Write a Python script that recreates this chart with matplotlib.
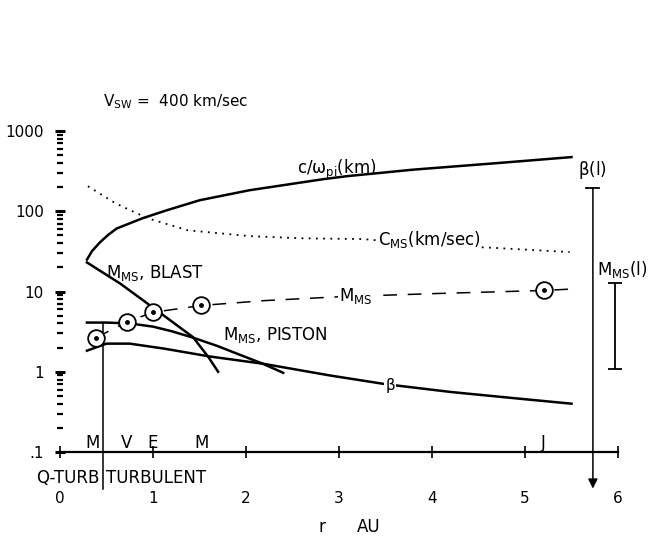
import matplotlib
matplotlib.use('Agg')
import matplotlib.pyplot as plt
from matplotlib.ticker import LogLocator, NullFormatter, FixedLocator

plt.rcParams['font.family'] = ['DejaVu Sans']
plt.rcParams['mathtext.default'] = 'regular'

# heliocentric distance (AU) and curve values
r_cwpi = [0.29, 0.345, 0.43, 0.52, 0.61, 0.89, 1.15, 1.5, 2.04, 2.83, 3.09,
          3.8, 4.7, 5.5]
v_cwpi = [25, 32, 41, 51, 61, 82, 103, 137, 183, 251, 274, 330, 398, 473]

r_cms = [0.30, 0.6, 0.94, 1.37, 2.04, 2.6, 3.26, 3.98, 4.66, 5.48]
v_cms = [205, 125, 82, 58, 49, 46, 45, 38, 35, 31]

r_blast = [0.29, 0.65, 1.0, 1.43, 1.6, 1.70]
v_blast = [23, 12.5, 6.3, 2.7, 1.5, 1.0]

r_piston = [0.29, 0.5, 0.75, 1.0, 1.2, 1.43, 1.69, 1.95, 2.18, 2.4]
v_piston = [4.1, 4.1, 4.0, 3.65, 3.2, 2.66, 2.1, 1.6, 1.26, 0.97]

r_beta = [0.29, 0.5, 0.75, 1.11, 1.61, 2.18, 2.9, 3.5, 4.2, 4.87, 5.5]
v_beta = [1.83, 2.24, 2.24, 1.95, 1.55, 1.26, 0.9, 0.7, 0.56, 0.47, 0.40]

# magnetosonic Mach number at the planets
planets = ['M', 'V', 'E', 'M', 'J']
r_planet = [0.39, 0.72, 1.0, 1.52, 5.2]
v_mms_planet = [2.66, 4.2, 5.5, 6.7, 10.3]
r_mms = [0.39, 0.72, 1.0, 1.52, 2.2, 3.0, 4.0, 5.2, 5.55]
v_mms = [2.66, 4.2, 5.5, 6.7, 7.7, 8.6, 9.4, 10.3, 10.8]

# ranges at the largest scale
beta_l = (195, 0.035)
mms_l = (12.6, 1.09)

xticks = [0, 1, 2, 3, 4, 5, 6]
yticks = [0.1, 1, 10, 100, 1000]
ytick_labels = ['.1', '1', '10', '100', '1000']

fs = 12

fig = plt.figure(figsize=(6.58, 5.42), dpi=100)
ax = fig.add_axes([60 / 658, 90 / 542, 558 / 658, 321 / 542])
ax.set_yscale('log')
ax.set_xlim(0, 6)
ax.set_ylim(0.1, 1000)

for side in ['top', 'right', 'left']:
    ax.spines[side].set_visible(False)
ax.spines['bottom'].set_linewidth(1.6)

ax.set_xticks(xticks)
ax.set_xticklabels([str(t) for t in xticks])
ax.tick_params(axis='x', direction='inout', length=8, width=1.2, pad=24,
               labelsize=11)
ax.yaxis.set_major_locator(FixedLocator(yticks))
ax.set_yticklabels(ytick_labels)
ax.yaxis.set_minor_locator(LogLocator(base=10, subs=range(2, 10)))
ax.yaxis.set_minor_formatter(NullFormatter())
ax.tick_params(axis='y', which='major', direction='inout', length=7,
               width=2.2, pad=8, labelsize=11)
ax.tick_params(axis='y', which='minor', direction='inout', length=5,
               width=1.6)

lw = 1.8
ax.plot(r_cwpi, v_cwpi, color='black', lw=lw)
ax.plot(r_cms, v_cms, color='black', lw=1.3, ls=(0, (1, 3)))
ax.plot(r_blast, v_blast, color='black', lw=lw)
ax.plot(r_piston, v_piston, color='black', lw=lw)
ax.plot(r_beta, v_beta, color='black', lw=lw)
ax.plot(r_mms, v_mms, color='black', lw=1.1, ls=(0, (9, 7)))
ax.plot(r_planet, v_mms_planet, ls='none', marker='o', ms=12,
        mfc='white', mec='black', mew=1.3, zorder=4)
ax.plot(r_planet, v_mms_planet, ls='none', marker='o', ms=2.5,
        color='black', zorder=5)

# quasi-turbulent / turbulent boundary
ax.plot([0.46, 0.46], [v_piston[0], 0.035], color='black', lw=1.1,
        clip_on=False)

# beta(l) range with arrow
ax.annotate('', xy=(5.73, beta_l[1]), xytext=(5.73, beta_l[0]),
            arrowprops=dict(arrowstyle='-|>', color='black', lw=1.1,
                            mutation_scale=14, shrinkA=0, shrinkB=0),
            annotation_clip=False)
ax.plot([5.66, 5.80], [beta_l[0], beta_l[0]], color='black', lw=1.3)
ax.text(5.72, 240, r'$\beta$(l)', ha='center', va='bottom', fontsize=fs)

# M_MS(l) range
mid = (mms_l[0] * mms_l[1]) ** 0.5
ax.errorbar([5.97], [mid], yerr=[[mid - mms_l[1]], [mms_l[0] - mid]],
            fmt='none', ecolor='black', elinewidth=1.3, capsize=5,
            capthick=1.3, clip_on=False)
ax.text(5.77, 19, r'M$_{MS}$(l)', ha='left', va='center', fontsize=fs,
        clip_on=False)

# curve labels
ax.text(2.55, 330, r'c/$\omega_{pi}$(km)', ha='left', va='center',
        fontsize=fs)
ax.text(3.42, 45, r'C$_{MS}$(km/sec)', ha='left', va='center',
        fontsize=fs, bbox=dict(fc='white', ec='none', pad=0.5))
ax.text(0.5, 17, r'M$_{MS}$, BLAST', ha='left', va='center', fontsize=fs)
ax.text(1.75, 2.9, r'M$_{MS}$, PISTON', ha='left', va='center',
        fontsize=fs)
ax.text(3.0, 8.8, r'M$_{MS}$', ha='left', va='center', fontsize=fs,
        bbox=dict(fc='white', ec='none', pad=1))
ax.text(3.55, 0.68, r'$\beta$', ha='center', va='center', fontsize=11,
        bbox=dict(fc='white', ec='none', pad=0.5))

# planet letters along the axis
for name, rp in zip(planets, r_planet):
    x = rp - 0.04 if rp < 0.5 else rp
    ax.text(x, 0.13, name, ha='center', va='center', fontsize=fs)

ax.text(0.42, 0.047, 'Q-TURB', ha='right', va='center', fontsize=fs,
        clip_on=False)
ax.text(0.50, 0.047, 'TURBULENT', ha='left', va='center', fontsize=fs,
        clip_on=False)

ax.text(2.82, 0.0115, 'r', ha='center', va='center', fontsize=fs,
        clip_on=False)
ax.text(3.32, 0.0115, 'AU', ha='center', va='center', fontsize=fs,
        clip_on=False)

fig.text(103 / 658, 1 - 102 / 542, r'V$_{SW}$ =  400 km/sec',
         ha='left', va='center', fontsize=11)

fig.savefig('out.png', dpi=100)
